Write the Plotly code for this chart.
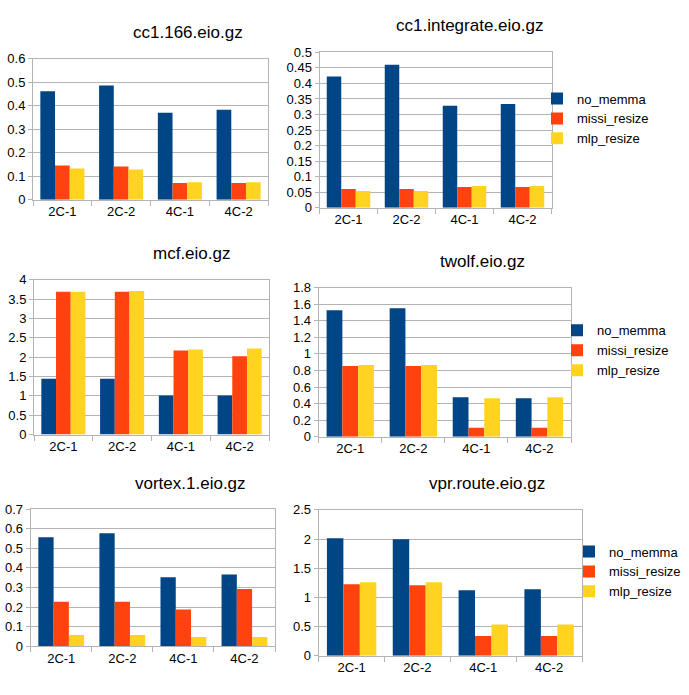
import plotly.graph_objects as go

W, H = 689, 695

categories = ["2C-1", "2C-2", "4C-1", "4C-2"]
series_names = ["no_memma", "missi_resize", "mlp_resize"]
series_colors = ["#004586", "#ff420e", "#ffd320"]

# cc1.166.eio.gz
cc1_166_no_memma = [0.462, 0.487, 0.371, 0.383]
cc1_166_missi_resize = [0.146, 0.142, 0.071, 0.071]
cc1_166_mlp_resize = [0.133, 0.129, 0.075, 0.075]

# cc1.integrate.eio.gz
cc1_int_no_memma = [0.422, 0.460, 0.328, 0.334]
cc1_int_missi_resize = [0.061, 0.061, 0.067, 0.067]
cc1_int_mlp_resize = [0.0545, 0.0545, 0.070, 0.070]

# mcf.eio.gz
mcf_no_memma = [1.44, 1.44, 1.01, 1.01]
mcf_missi_resize = [3.69, 3.69, 2.17, 2.02]
mcf_mlp_resize = [3.69, 3.71, 2.20, 2.22]

# twolf.eio.gz
twolf_no_memma = [1.525, 1.549, 0.476, 0.464]
twolf_missi_resize = [0.853, 0.853, 0.110, 0.110]
twolf_mlp_resize = [0.865, 0.865, 0.464, 0.476]

# vortex.1.eio.gz
vortex_no_memma = [0.557, 0.577, 0.352, 0.367]
vortex_missi_resize = [0.227, 0.227, 0.187, 0.292]
vortex_mlp_resize = [0.057, 0.057, 0.047, 0.047]

# vpr.route.eio.gz
vpr_no_memma = [2.013, 1.997, 1.124, 1.141]
vpr_missi_resize = [1.225, 1.208, 0.336, 0.336]
vpr_mlp_resize = [1.258, 1.258, 0.537, 0.537]

panels = [
    dict(title="cc1.166.eio.gz", data=[cc1_166_no_memma, cc1_166_missi_resize, cc1_166_mlp_resize],
         xd=(33, 268), yd=(53, 197), ymax=0.6, dtick=0.1, tpos=(188, 26), legend=None),
    dict(title="cc1.integrate.eio.gz", data=[cc1_int_no_memma, cc1_int_missi_resize, cc1_int_mlp_resize],
         xd=(319.5, 551.5), yd=(46.3, 205.3), ymax=0.5, dtick=0.05, tpos=(469, 19), legend=(575, 114)),
    dict(title="mcf.eio.gz", data=[mcf_no_memma, mcf_missi_resize, mcf_mlp_resize],
         xd=(34, 269), yd=(278.7, 437), ymax=4, dtick=0.5, tpos=(191, 252), legend=None),
    dict(title="twolf.eio.gz", data=[twolf_no_memma, twolf_missi_resize, twolf_mlp_resize],
         xd=(318.7, 571), yd=(286.7, 439.3), ymax=1.8, dtick=0.2, tpos=(482, 260), legend=(595, 351)),
    dict(title="vortex.1.eio.gz", data=[vortex_no_memma, vortex_missi_resize, vortex_mlp_resize],
         xd=(30.7, 275), yd=(513.3, 653.3), ymax=0.7, dtick=0.1, tpos=(190, 487), legend=None),
    dict(title="vpr.route.eio.gz", data=[vpr_no_memma, vpr_missi_resize, vpr_mlp_resize],
         xd=(318.7, 582), yd=(514, 663), ymax=2.5, dtick=0.5, tpos=(487, 487), legend=(607, 577)),
]

FONT = "Liberation Sans, Arial, sans-serif"
GRID = "#b3b3b3"

fig = go.Figure()
layout = dict(
    width=W, height=H,
    margin=dict(l=0, r=0, t=0, b=0),
    paper_bgcolor="white", plot_bgcolor="white",
    font=dict(family=FONT, size=13, color="#000000"),
    barmode="group", bargap=0.25, bargroupgap=0,
    annotations=[],
)

legend_idx = 0
for i, p in enumerate(panels):
    n = i + 1
    xa = "x" if n == 1 else f"x{n}"
    ya = "y" if n == 1 else f"y{n}"
    lg_name = None
    if p["legend"] is not None:
        legend_idx += 1
        lg_name = "legend" if legend_idx == 1 else f"legend{legend_idx}"
        lx, ly = p["legend"]
        layout[lg_name] = dict(
            x=(lx - 38) / W, y=1 - ly / H, xanchor="left", yanchor="middle",
            bgcolor="rgba(0,0,0,0)", font=dict(family=FONT, size=13, color="#000000"),
            itemwidth=30, tracegroupgap=0, traceorder="normal",
        )
    for s, name in enumerate(series_names):
        fig.add_trace(go.Bar(
            x=categories, y=p["data"][s], name=name,
            marker=dict(color=series_colors[s], line=dict(width=0)),
            xaxis=xa, yaxis=ya,
            showlegend=lg_name is not None,
            legend=lg_name if lg_name else "legend",
        ))
    xkey = "xaxis" if n == 1 else f"xaxis{n}"
    ykey = "yaxis" if n == 1 else f"yaxis{n}"
    layout[xkey] = dict(
        domain=[p["xd"][0] / W, p["xd"][1] / W], anchor=ya,
        type="category", range=[-0.5, 3.5],
        showline=True, linecolor=GRID, linewidth=1, mirror=True,
        ticks="outside", tickson="boundaries", ticklen=5, tickcolor=GRID,
        showgrid=False, tickfont=dict(family=FONT, size=13, color="#000000"),
        fixedrange=True,
    )
    layout[ykey] = dict(
        domain=[1 - p["yd"][1] / H, 1 - p["yd"][0] / H], anchor=xa,
        range=[0, p["ymax"]], dtick=p["dtick"], tick0=0,
        showline=True, linecolor=GRID, linewidth=1, mirror=True,
        ticks="outside", ticklen=4, tickcolor=GRID,
        showgrid=True, gridcolor=GRID, gridwidth=1, zeroline=False,
        tickfont=dict(family=FONT, size=13, color="#000000"),
        fixedrange=True,
    )
    tx, ty = p["tpos"]
    layout["annotations"].append(dict(
        text=p["title"], x=tx / W, y=1 - ty / H, xref="paper", yref="paper",
        xanchor="center", yanchor="middle", showarrow=False,
        font=dict(family=FONT, size=17, color="#000000"),
    ))

fig.update_layout(**layout)
fig.write_html(
    "out.html",
    config={"displayModeBar": False},
    post_script="document.body.style.margin='0';document.body.style.overflow='hidden';",
)
